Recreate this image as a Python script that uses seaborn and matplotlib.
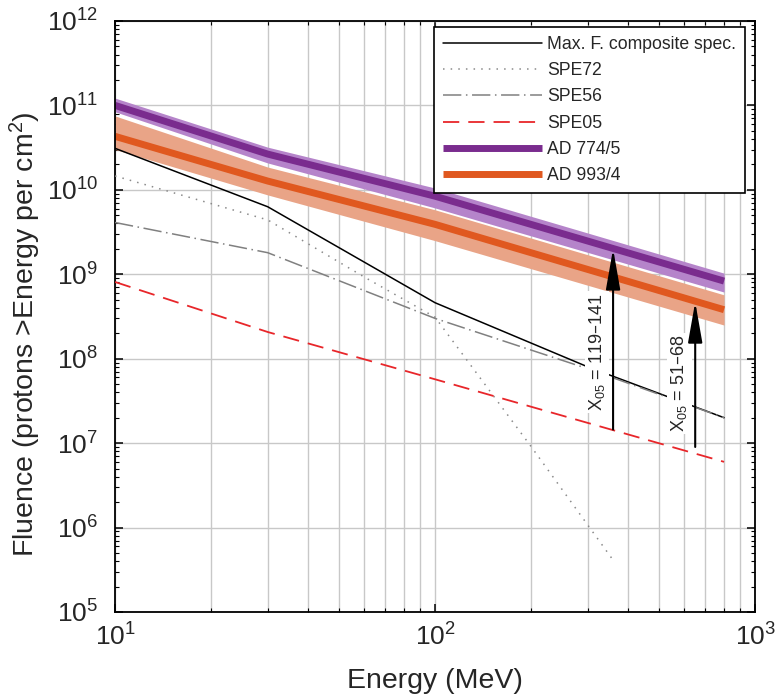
import numpy as np
import matplotlib.pyplot as plt
import seaborn as sns
from matplotlib.ticker import LogLocator, NullFormatter

# Spectra (energy in MeV, fluence >E in protons per cm^2)
energy_comp = [10, 30, 100, 300, 800]
flux_comp = [3.1e10, 6.3e9, 4.6e8, 8.0e7, 2.0e7]

energy_spe72 = [10, 30, 60, 100, 200, 357]
flux_spe72 = [1.46e10, 4.4e9, 9.3e8, 3.1e8, 9.0e6, 4.3e5]

energy_spe56 = [10, 30, 100, 300, 800]
flux_spe56 = [4.1e9, 1.8e9, 3.0e8, 7.6e7, 2.0e7]

energy_spe05 = [10, 30, 100, 800]
flux_spe05 = [8.1e8, 2.07e8, 5.7e7, 6.0e6]

# AD events: central estimate and uncertainty band
energy_ad = [10, 30, 100, 800]
ad774_mid = [1.0e11, 2.65e10, 8.4e9, 8.3e8]
ad774_low = [8.4e10, 2.08e10, 6.1e9, 6.15e8]
ad774_high = [1.22e11, 3.2e10, 1.05e10, 1.03e9]
ad993_mid = [4.3e10, 1.27e10, 3.9e9, 3.8e8]
ad993_low = [3.0e10, 8.7e9, 2.5e9, 2.5e8]
ad993_high = [7.5e10, 1.86e10, 5.8e9, 5.7e8]

# X05 arrows: from SPE05 up to the AD events
arrow_energy = [360, 650]
arrow_from = [1.45e7, 9.0e6]
arrow_to = [2.0e9, 4.7e8]
arrow_labels = ['X$_{05}$ = 119\u2013141', 'X$_{05}$ = 51\u201368']
label_energy = [320, 580]
label_flux = [1.2e8, 5.1e7]

sns.set_style('ticks')
plt.rcParams['font.family'] = ['Liberation Sans', 'DejaVu Sans']
plt.rcParams['mathtext.default'] = 'regular'

fig = plt.figure(figsize=(7.81, 6.94), dpi=100)
ax = fig.add_axes([0.1473, 0.1182, 0.8195, 0.8516])
ax.set_xscale('log')
ax.set_yscale('log')

# uncertainty bands
ax.fill_between(energy_ad, ad774_low, ad774_high, color='#B584CA', lw=0, zorder=1)
ax.fill_between(energy_ad, ad993_low, ad993_high, color='#E9A487', lw=0, zorder=1)

handles = []
sns.lineplot(x=energy_comp, y=flux_comp, ax=ax, color='black', lw=1.1, zorder=3)
handles.append(ax.lines[-1])
sns.lineplot(x=energy_spe72, y=flux_spe72, ax=ax, color='#8a8a8a', lw=1.1, zorder=3)
ax.lines[-1].set_dashes((1, 4))
handles.append(ax.lines[-1])
sns.lineplot(x=energy_spe56, y=flux_spe56, ax=ax, color='#808080', lw=1.1, zorder=3)
ax.lines[-1].set_dashes((12, 3, 1, 3))
handles.append(ax.lines[-1])
sns.lineplot(x=energy_spe05, y=flux_spe05, ax=ax, color='#E8262A', lw=1.3, zorder=3)
ax.lines[-1].set_dashes((9, 5))
handles.append(ax.lines[-1])
sns.lineplot(x=energy_ad, y=ad774_mid, ax=ax, color='#7A2C8E', lw=5,
             solid_capstyle='butt', zorder=2)
handles.append(ax.lines[-1])
sns.lineplot(x=energy_ad, y=ad993_mid, ax=ax, color='#E0581F', lw=5,
             solid_capstyle='butt', zorder=2)
handles.append(ax.lines[-1])

labels = ['Max. F. composite spec.', 'SPE72', 'SPE56', 'SPE05', 'AD 774/5', 'AD 993/4']

# arrows and their labels
for e, f0, f1 in zip(arrow_energy, arrow_from, arrow_to):
    ax.annotate('', xy=(e, f1), xytext=(e, f0),
                arrowprops=dict(arrowstyle='-|>,head_length=1.25,head_width=0.22',
                                color='black', lw=1.5, mutation_scale=20,
                                shrinkA=0, shrinkB=0),
                zorder=6)
for e, f, txt in zip(label_energy, label_flux, arrow_labels):
    ax.text(e, f, txt, rotation=90, ha='center', va='center', fontsize=13,
            bbox=dict(facecolor='white', edgecolor='none', pad=1.5), zorder=5)

ax.set_xlim(10, 1000)
ax.set_ylim(1e5, 1e12)
ax.yaxis.set_major_locator(LogLocator(base=10, numticks=20))
ax.yaxis.set_minor_locator(LogLocator(base=10, subs=np.arange(2, 10), numticks=20))
ax.yaxis.set_minor_formatter(NullFormatter())
ax.xaxis.set_minor_formatter(NullFormatter())

ax.set_axisbelow(True)
ax.grid(True, which='major', color='#c8c8c8', lw=1)
ax.xaxis.grid(True, which='minor', color='#c8c8c8', lw=1)

ax.tick_params(which='both', direction='in', top=True, right=True, color='black')
ax.tick_params(which='major', length=6, width=1.1, labelsize=19)
ax.tick_params(axis='x', which='major', pad=8)
ax.tick_params(axis='y', which='major', pad=12)
ax.tick_params(which='minor', length=3, width=0.8)
for sp in ax.spines.values():
    sp.set_color('black')
    sp.set_linewidth(1.3)

ax.set_xlabel('Energy (MeV)', fontsize=20.5)
ax.set_ylabel('Fluence (protons >Energy per cm$^2$)', fontsize=20.5)
ax.xaxis.set_label_coords(0.5, -0.095)
ax.yaxis.set_label_coords(-0.112, 0.47)

leg = ax.legend(handles, labels, loc='upper right', bbox_to_anchor=(0.984, 0.99),
                borderaxespad=0, fontsize=12.7, handlelength=5.6, handletextpad=0.3,
                labelspacing=0.53, borderpad=0.5, frameon=True, fancybox=False,
                edgecolor='black', framealpha=1)
leg.get_frame().set_linewidth(1.2)
leg.set_zorder(10)

fig.savefig('out.png', dpi=100)
